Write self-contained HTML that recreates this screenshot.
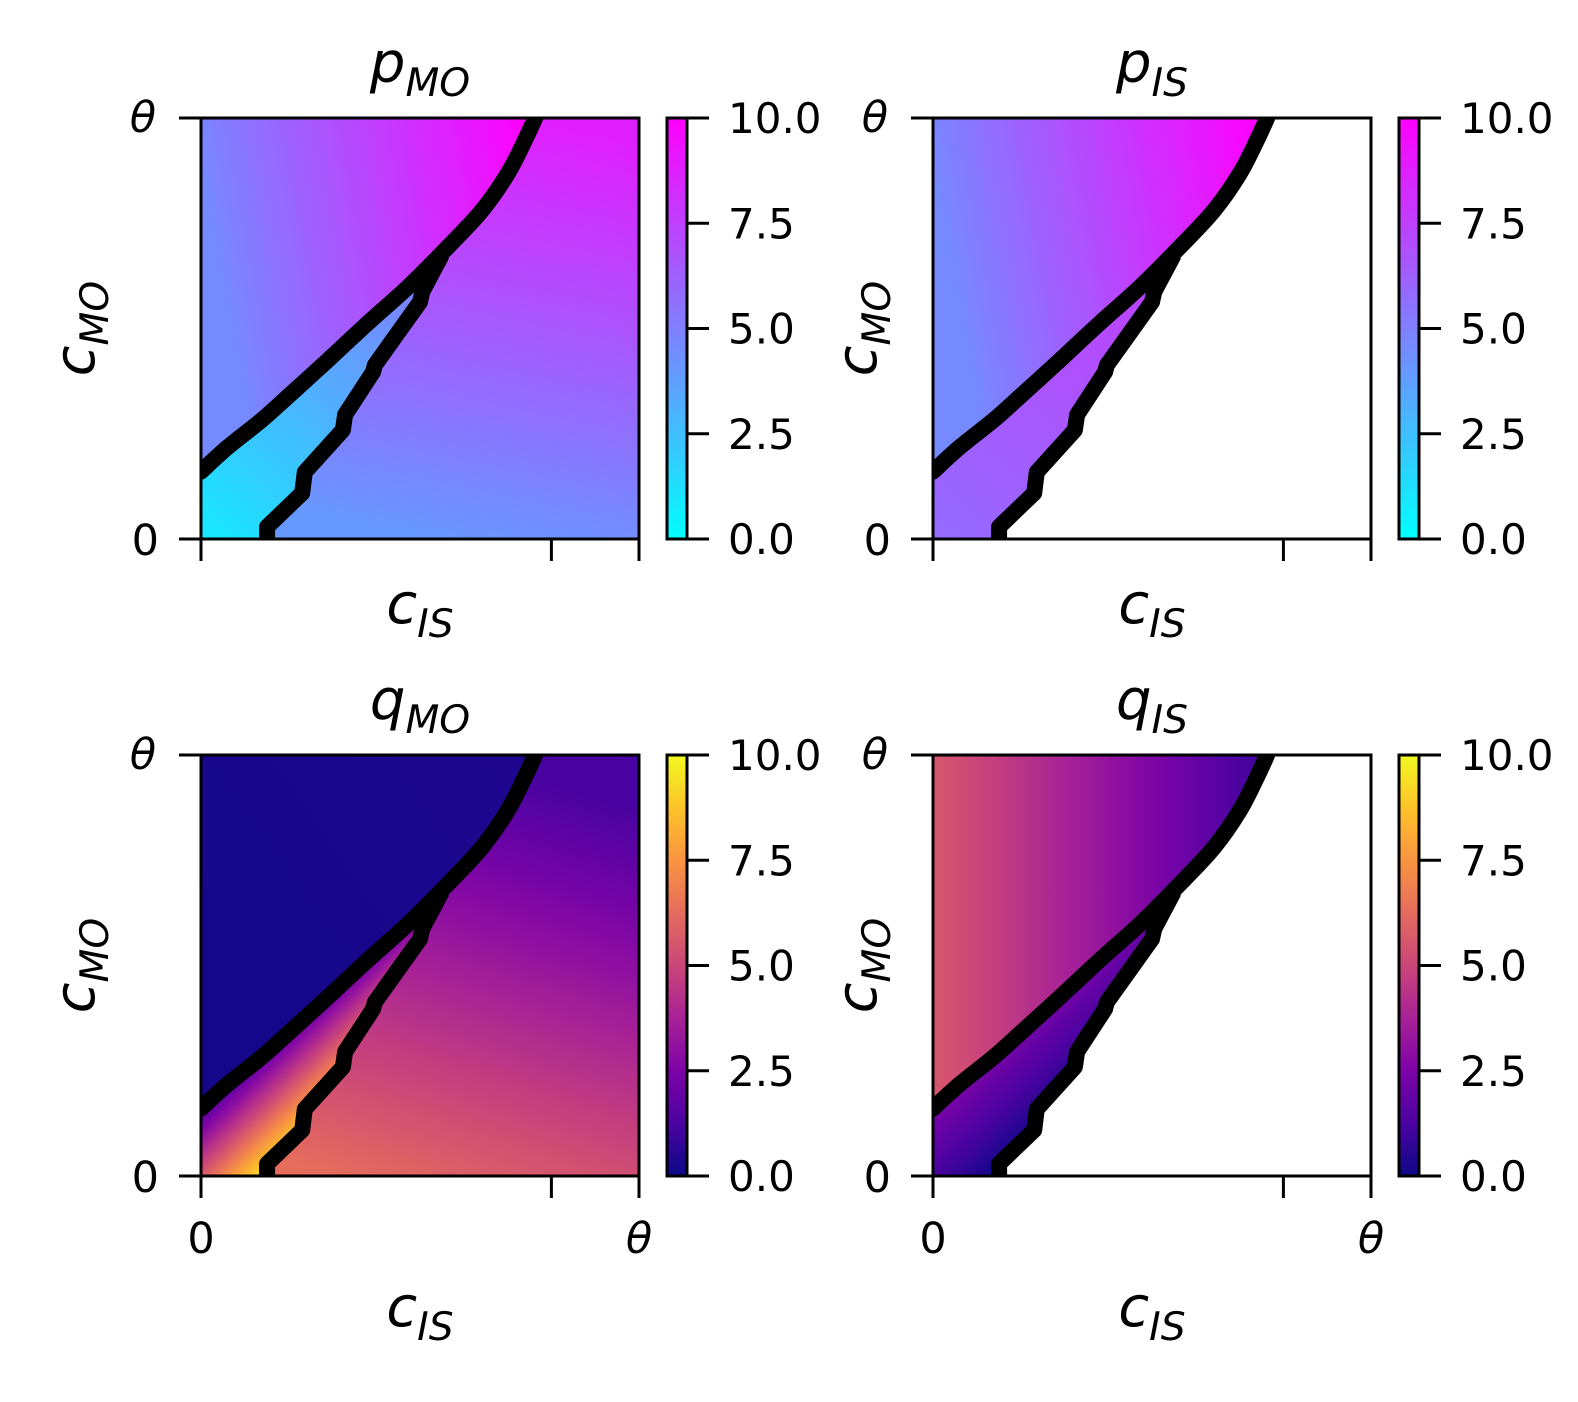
<!DOCTYPE html>
<html><head><meta charset="utf-8"><style>
html,body{margin:0;padding:0;background:#fff;width:1578px;height:1402px;overflow:hidden}
svg{display:block}
text{font-family:"DejaVu Sans","Liberation Sans",sans-serif;fill:#000}
</style></head><body>
<svg id="fig" width="1578" height="1402" viewBox="0 0 1578 1402" xmlns="http://www.w3.org/2000/svg"></svg>
<script>
// ---- data (fractional c_IS, c_MO coordinates; values on 0-10 colour scale) ----
const curveA=[[0,0.16],[0.062,0.219],[0.139,0.283],[0.215,0.354],[0.29,0.425],[0.381,0.513],[0.473,0.599],[0.564,0.694],[0.642,0.781],[0.701,0.869],[0.740,0.948],[0.763,1.0]];
const curveB=[[0.151,0],[0.151,0.029],[0.231,0.109],[0.237,0.159],[0.324,0.259],[0.329,0.295],[0.393,0.397],[0.397,0.413],[0.5,0.563],[0.505,0.587],[0.55,0.675]];
const panelNames=["p_MO","p_IS","q_MO","q_IS"];
const panelCmaps=["cool","cool","plasma","plasma"];
const upperVals=[[4.6,10],[4.6,10],[0.15,0.35],[5.6,1.0]];
const rightVals=[[4.0,8.8],null,[6.3,1.2],null];
const wedgeVals=[[0.8,5.0],[5.8,7.4],[2.0,9.0],[2.3,0.2]];
const cbTicks=[0,2.5,5,7.5,10];
const cbLabels=["0.0","2.5","5.0","7.5","10.0"];
const xTicks=[0,0.8,1];
const upperVec=[[[0,0.85],[0.74,1]],[[0,0.85],[0.74,1]],[[0,0.5],[0.7,1]],[[0,0.5],[0.75,0.5]]];
const rightVec=[[0.5,0],[0.7,1]];
const qRightVec=[[0.3,0],[0.6,1]];
const wedgeVec=[[[0,0],[0.5,0.6]],[[0,0],[0.5,0.6]],[[0.02,0.15],[0.14,0.02]],[[0.02,0.15],[0.14,0.02]]];

const NS="http://www.w3.org/2000/svg";
const svg=document.getElementById("fig");
function mk(tag,attrs,parent){const e=document.createElementNS(NS,tag);for(const k in attrs)e.setAttribute(k,attrs[k]);(parent||svg).appendChild(e);return e;}
const plasmaStops=[[13,8,135],[75,3,161],[125,3,168],[168,34,150],[203,70,121],[229,107,93],[248,148,65],[253,195,40],[240,249,33]];
function cmap(name,v){let t=Math.max(0,Math.min(1,v/10));
 if(name==="cool")return `rgb(${Math.round(255*t)},${Math.round(255*(1-t))},255)`;
 const p=t*8,i=Math.min(7,Math.floor(p)),f=p-i,a=plasmaStops[i],b=plasmaStops[i+1];
 return `rgb(${a.map((c,k)=>Math.round(c+(b[k]-c)*f)).join(",")})`;}
const defs=mk("defs",{});
const layout=[{x0:201,y0:118,cb:667,yl:94},{x0:933,y0:118,cb:1399,yl:876},{x0:201,y0:755,cb:667,yl:94},{x0:933,y0:755,cb:1399,yl:876}];
const W=438,H=421;
function grad(id,vec,vals,cm,sx,sy){const g=mk("linearGradient",{id:id,gradientUnits:"userSpaceOnUse",x1:sx(vec[0][0]),y1:sy(vec[0][1]),x2:sx(vec[1][0]),y2:sy(vec[1][1])},defs);
 for(let i=0;i<=10;i++){const v=vals[0]+(vals[1]-vals[0])*i/10;mk("stop",{offset:i/10,"stop-color":cmap(cm,v)},g);}}
function smoothPath(P){let d=`M${P[0][0].toFixed(1)},${P[0][1].toFixed(1)}`;
 for(let i=0;i<P.length-1;i++){const p0=P[Math.max(0,i-1)],p1=P[i],p2=P[i+1],p3=P[Math.min(P.length-1,i+2)];
  const c1=[p1[0]+(p2[0]-p0[0])/6,p1[1]+(p2[1]-p0[1])/6],c2=[p2[0]-(p3[0]-p1[0])/6,p2[1]-(p3[1]-p1[1])/6];
  d+=` C${c1[0].toFixed(1)},${c1[1].toFixed(1)} ${c2[0].toFixed(1)},${c2[1].toFixed(1)} ${p2[0].toFixed(1)},${p2[1].toFixed(1)}`;}
 return d;}
function mathLabel(g,x,y,base,sub,size,name,rot){
 const t=mk("text",{x:x,y:y,"text-anchor":"middle","font-size":size,"font-style":"italic"},g);
 if(rot)t.setAttribute("transform",`rotate(-90 ${x} ${y})`);
 
 
 const a=mk("tspan",{},t);a.textContent=base;
 const b=mk("tspan",{"font-size":size*0.7,dy:size*0.25},t);b.textContent=sub;}
layout.forEach((L,pi)=>{
 const cm=panelCmaps[pi];
 const sx=f=>L.x0+f*W, sy=f=>L.y0+H-f*H;
 const g=mk("g",{});
 
 
 const pxA=curveA.map(p=>[sx(p[0]),sy(p[1])]);
 const pts=a=>a.map(p=>sx(p[0]).toFixed(1)+","+sy(p[1]).toFixed(1)).join(" ");
 const dA=smoothPath(pxA);
 if(rightVals[pi]){grad("gr"+pi,cm==="cool"?rightVec:qRightVec,rightVals[pi],cm,sx,sy);
  const r=mk("path",{d:dA+` L${sx(1)},${sy(1)} L${sx(1)},${sy(0)} L${sx(0)},${sy(0)} Z`,fill:`url(#gr${pi})`},g);
  
  }
 grad("gw"+pi,wedgeVec[pi],wedgeVals[pi],cm,sx,sy);
 const w=mk("polygon",{points:pts(curveB.concat([[0,0.16],[0,0]])),fill:`url(#gw${pi})`},g);
 
 
 grad("gu"+pi,upperVec[pi],upperVals[pi],cm,sx,sy);
 const u=mk("path",{d:dA+` L${sx(0)},${sy(1)} Z`,fill:`url(#gu${pi})`},g);
 
 
 const ca=mk("path",{d:dA,fill:"none",stroke:"#000","stroke-width":16,"stroke-linejoin":"round","stroke-linecap":"round"},g);
 
 
 const cb=mk("polyline",{points:pts(curveB),fill:"none",stroke:"#000","stroke-width":16,"stroke-linejoin":"round"},g);
 
 
 // mask stroke overflow outside axes
 const clipR=mk("path",{d:`M0,0 H1578 V1402 H0 Z M${L.x0},${L.y0} V${L.y0+H} H${L.x0+W} V${L.y0} Z`,fill:"#fff","fill-rule":"evenodd"},g);
 
 
 clipR.setAttribute('clip-path',`url(#cl${pi})`);
 const cp=mk("clipPath",{id:"cl"+pi},defs);
 mk("rect",{x:L.x0-20,y:L.y0-20,width:W+40,height:H+40},cp);
 const fr=mk("rect",{x:L.x0,y:L.y0,width:W,height:H,fill:"none",stroke:"#000","stroke-width":3},g);
 
 
 [0,1].forEach(v=>{mk("line",{x1:L.x0-22,x2:L.x0,y1:sy(v),y2:sy(v),stroke:"#000","stroke-width":3},g);});
 const yt1=mk("text",{x:L.x0-45,y:sy(1)+14,"text-anchor":"end","font-size":43,"font-style":"italic"},g);yt1.textContent="θ";
 
 
 const yt0=mk("text",{x:L.x0-42,y:sy(0)+16,"text-anchor":"end","font-size":43},g);yt0.textContent="0";
 
 
 xTicks.forEach(v=>{mk("line",{x1:sx(v),x2:sx(v),y1:L.y0+H,y2:L.y0+H+22,stroke:"#000","stroke-width":3},g);});
 let xlabY=L.y0+H+84;
 if(pi>=2){const a=mk("text",{x:sx(0),y:L.y0+H+77,"text-anchor":"middle","font-size":43},g);a.textContent="0";
  
  
  const b=mk("text",{x:sx(1),y:L.y0+H+77,"text-anchor":"middle","font-size":43,"font-style":"italic"},g);b.textContent="θ";
  
  
  xlabY=L.y0+H+150;}
 const nm=panelNames[pi].split("_");
 mathLabel(g,sx(0.5),L.y0-36,nm[0],nm[1],56,'panel-title',false);
 mathLabel(g,sx(0.5),xlabY,"c","IS",56,'x-axis-title',false);
 mathLabel(g,L.yl,sy(0.5),"c","MO",56,'y-axis-title',true);
 const cg=mk("g",{},g);
 
 
 const cgid="cbg"+pi;const lg=mk("linearGradient",{id:cgid,x1:0,y1:1,x2:0,y2:0},defs);
 for(let i=0;i<=16;i++)mk("stop",{offset:i/16,"stop-color":cmap(cm,10*i/16)},lg);
 mk("rect",{x:L.cb,y:L.y0,width:20,height:H,fill:`url(#${cgid})`,stroke:"#000","stroke-width":3},cg);
 cbTicks.forEach((v,i)=>{const y=L.y0+H-v/10*H;
  mk("line",{x1:L.cb+20,x2:L.cb+42,y1:y,y2:y,stroke:"#000","stroke-width":3},cg);
  const t=mk("text",{x:L.cb+61,y:y+15,"font-size":42},cg);t.textContent=cbLabels[i];
  
  });
});
</script>
</body></html>
